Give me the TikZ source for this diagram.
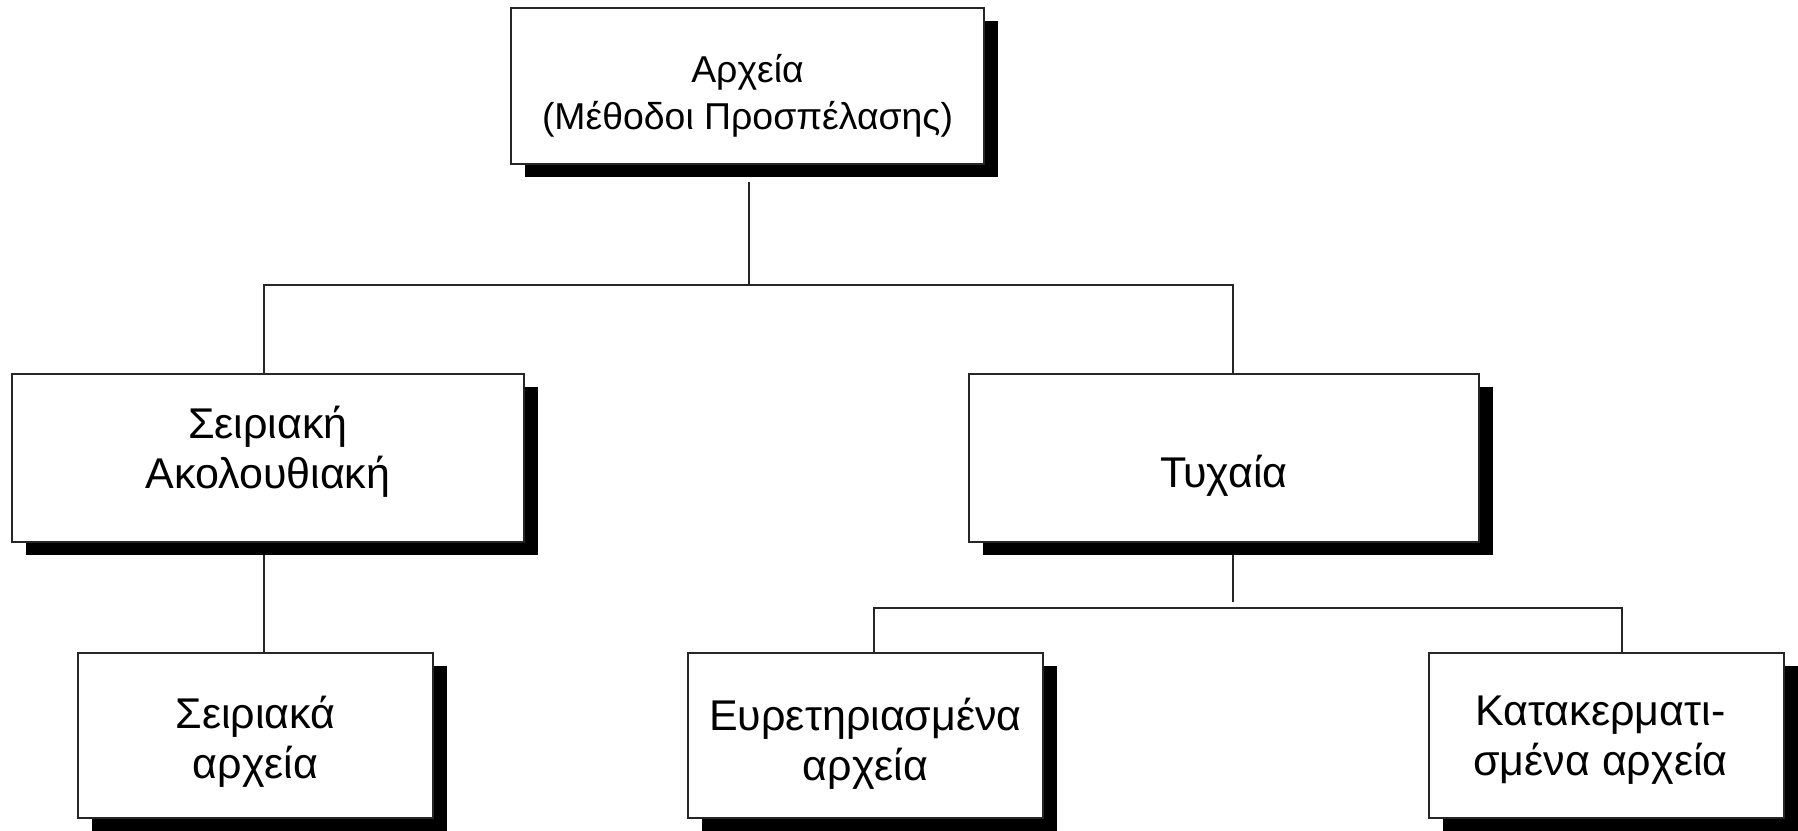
\documentclass[tikz,border=0pt]{standalone}
\usepackage{fontspec}
\setmainfont{Liberation Sans}
\usetikzlibrary{shadows,backgrounds}
\begin{document}
\begin{tikzpicture}[x=0.5pt,y=-0.5pt,
  box/.style={draw=black!85, line width=1pt, fill=white, inner sep=0pt, outer sep=0pt,
    drop shadow={shadow xshift=7pt, shadow yshift=-6.5pt, fill=black, opacity=1}},
  txt/.style={align=center, inner sep=0pt, font=\fontsize{21.5pt}{25pt}\selectfont},
  toptxt/.style={txt, font=\fontsize{18.7pt}{23.5pt}\selectfont},
  link/.style={draw=black!85, line width=1pt}]
\useasboundingbox (0,0) rectangle (1798,830);

% file organisation tree: frames
\node[box, minimum width=236.5pt, minimum height=78pt] (files) at (747.5,86) {};
\node[box, minimum width=256pt, minimum height=84pt] (seq) at (268,458) {};
\node[box, minimum width=255pt, minimum height=84pt] (rand) at (1224,458) {};
\node[box, minimum width=177.5pt, minimum height=82.5pt] (seqf) at (255.5,735.5) {};
\node[box, minimum width=177.5pt, minimum height=82.5pt] (idxf) at (865.5,735.5) {};
\node[box, minimum width=177.5pt, minimum height=82.5pt] (hashf) at (1606.5,735.5) {};

% captions
\node[toptxt] (filesT) at ([yshift=-5pt]files.center) {Αρχεία\\(Μέθοδοι Προσπέλασης)};
\node[txt] (seqT) at ([yshift=3pt]seq.center) {Σειριακή\\Ακολουθιακή};
\node[txt] (randT) at ([yshift=-9pt]rand.center) {Τυχαία};
\node[txt] (seqfT) at ([yshift=-3pt]seqf.center) {Σειριακά\\αρχεία};
\node[txt] (idxfT) at ([yshift=-4pt]idxf.center) {Ευρετηριασμένα\\αρχεία};
\node[txt] (hashfT) at ([xshift=-3pt,yshift=-2.5pt]hashf.center) {Κατακερματι-\\σμένα αρχεία};

% branch points
\coordinate (topbar) at (749,285);
\coordinate (barL) at (264,285);
\coordinate (barR) at (1233,285);
\coordinate (lowL) at (874,608);
\coordinate (lowR) at (1622,608);
\coordinate (lowC) at (1233,602);

\begin{scope}[on background layer]
  \draw[link] ([yshift=-9pt]files.south -| topbar) -- (topbar);
  \draw[link] (seq.north -| barL) -- (barL) -- (barR) -- (rand.north -| barR);
  \draw[link] (seq.south -| barL) -- (seqf.north -| barL);
  \draw[link] (rand.south -| lowC) -- (lowC);
  \draw[link] (idxf.north -| lowL) -- (lowL) -- (lowR) -- (hashf.north -| lowR);
\end{scope}
\end{tikzpicture}
\end{document}
